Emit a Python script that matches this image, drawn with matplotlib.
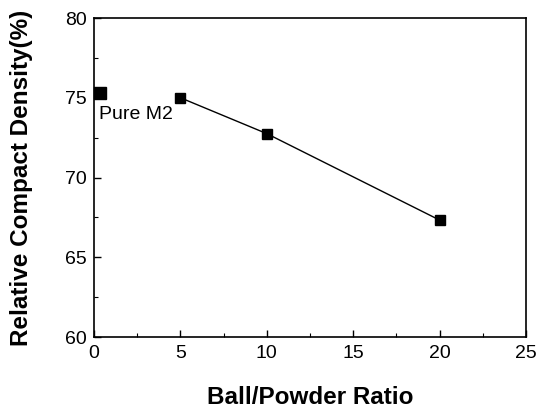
import numpy as np
import matplotlib.pyplot as plt
from matplotlib.ticker import MultipleLocator

plt.rcParams['font.family'] = ['Liberation Sans', 'DejaVu Sans']

# dados
razao = [5, 10, 20]
densidade = [75.0, 72.75, 67.33]
puro_x = [0.33]
puro_y = [75.3]
rotulo_puro = 'Pure M2'

fig = plt.figure(figsize=(5.5, 4.11), dpi=100)
ax = fig.add_axes([94/550, 1-337/411, (526-94)/550, (337-18)/411])

ax.plot(razao, densidade, 'k-', lw=1, marker='s', ms=7.2, mfc='k', mec='k')
ax.plot(puro_x, puro_y, 's', color='k', ms=8, clip_on=False)
ax.text(puro_x[0] - 0.05, 73.95, rotulo_puro, fontsize=14, va='center', ha='left')

ax.set_xlim(0, 25)
ax.set_ylim(60, 80)
ax.xaxis.set_major_locator(MultipleLocator(5))
ax.xaxis.set_minor_locator(MultipleLocator(2.5))
ax.yaxis.set_major_locator(MultipleLocator(5))
ax.yaxis.set_minor_locator(MultipleLocator(2.5))
ax.tick_params(which='both', direction='in', top=False, right=False, labelsize=14)
ax.tick_params(which='major', length=5, width=1)
ax.tick_params(which='minor', length=3, width=0.8)
ax.tick_params(axis='x', pad=6)
ax.tick_params(axis='y', pad=5)
for s in ax.spines.values():
    s.set_linewidth(1.2)

ax.set_xlabel('Ball/Powder Ratio', fontsize=17.5, fontweight='bold')
ax.set_ylabel('Relative Compact Density(%)', fontsize=17.5, fontweight='bold')
ax.xaxis.set_label_coords(0.5, -0.155)
ax.yaxis.set_label_coords(-0.141, 0.5)

fig.savefig('out.png', dpi=100)
